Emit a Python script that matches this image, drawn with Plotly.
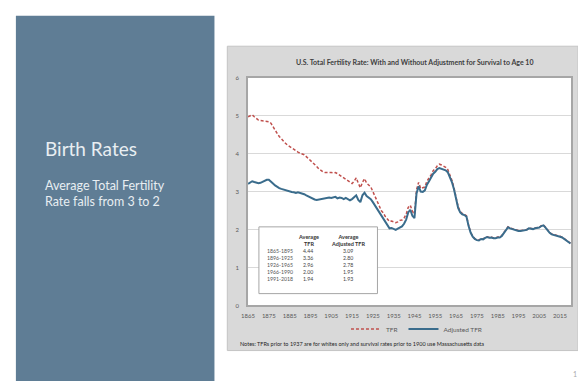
import plotly.graph_objects as go

W, H = 578, 384

# --- series -----------------------------------------------------------------
years = list(range(1865, 2021))

tfr = [
    4.97, 5.00, 5.02, 4.97, 4.92, 4.88, 4.87, 4.86, 4.86, 4.85,   # 1865-1874
    4.84, 4.80, 4.70, 4.60, 4.53, 4.45, 4.38, 4.32, 4.27, 4.22,   # 1875-1884
    4.18, 4.15, 4.11, 4.07, 4.04, 4.01, 3.99, 3.97, 3.92, 3.87,   # 1885-1894
    3.82, 3.78, 3.72, 3.66, 3.60, 3.55, 3.52, 3.50, 3.50, 3.51,   # 1895-1904
    3.50, 3.49, 3.50, 3.47, 3.43, 3.39, 3.35, 3.31, 3.28, 3.25,   # 1905-1914
    3.21, 3.27, 3.36, 3.22, 3.10, 3.24, 3.34, 3.22, 3.18, 3.12,   # 1915-1924
    3.00, 2.86, 2.76, 2.63, 2.50, 2.44, 2.34, 2.27, 2.21, 2.22,   # 1925-1934
    2.21, 2.18, 2.20, 2.24, 2.25, 2.30, 2.40, 2.58, 2.64, 2.48,   # 1935-1944
    2.40, 3.05, 3.24, 3.08, 3.10, 3.12, 3.27, 3.35, 3.44, 3.55,   # 1945-1954
    3.60, 3.68, 3.72, 3.70, 3.68, 3.64, 3.58, 3.45, 3.30, 3.10,   # 1955-1964
    2.84, 2.60, 2.47, 2.42, 2.40, 2.36, 2.12, 1.93, 1.82, 1.76,   # 1965-1974
    1.73, 1.72, 1.76, 1.75, 1.79, 1.81, 1.79, 1.80, 1.78, 1.78,   # 1975-1984
    1.80, 1.80, 1.84, 1.92, 2.02, 2.07, 2.04, 2.02, 2.00, 1.98,   # 1985-1994
    1.97, 1.97, 1.98, 1.99, 2.00, 2.04, 2.02, 2.02, 2.04, 2.05,   # 1995-2004
    2.06, 2.10, 2.12, 2.06, 1.98, 1.92, 1.88, 1.87, 1.86, 1.85,   # 2005-2014
    1.82, 1.80, 1.76, 1.72, 1.70, 1.64,                           # 2015-2020
]

adj_tfr = [
    3.20, 3.24, 3.27, 3.25, 3.23, 3.22, 3.23, 3.26, 3.29, 3.31,   # 1865-1874
    3.31, 3.27, 3.21, 3.16, 3.12, 3.09, 3.07, 3.05, 3.04, 3.03,   # 1875-1884
    3.00, 2.99, 2.98, 2.96, 2.98, 2.97, 2.95, 2.93, 2.90, 2.87,   # 1885-1894
    2.84, 2.82, 2.79, 2.78, 2.79, 2.80, 2.81, 2.83, 2.82, 2.84,   # 1895-1904
    2.83, 2.84, 2.86, 2.82, 2.84, 2.83, 2.80, 2.83, 2.79, 2.77,   # 1905-1914
    2.80, 2.86, 2.90, 2.78, 2.72, 2.90, 2.97, 2.88, 2.84, 2.80,   # 1915-1924
    2.72, 2.63, 2.57, 2.47, 2.36, 2.28, 2.18, 2.10, 2.03, 2.04,   # 1925-1934
    2.02, 1.99, 2.02, 2.06, 2.08, 2.15, 2.26, 2.45, 2.52, 2.36,   # 1935-1944
    2.30, 2.95, 3.14, 3.00, 2.99, 3.03, 3.18, 3.27, 3.36, 3.47,   # 1945-1954
    3.52, 3.59, 3.62, 3.60, 3.59, 3.56, 3.51, 3.39, 3.25, 3.06,   # 1955-1964
    2.80, 2.57, 2.45, 2.40, 2.38, 2.34, 2.10, 1.92, 1.81, 1.75,   # 1965-1974
    1.72, 1.71, 1.75, 1.74, 1.78, 1.80, 1.78, 1.79, 1.77, 1.77,   # 1975-1984
    1.79, 1.79, 1.83, 1.91, 2.01, 2.06, 2.03, 2.01, 1.99, 1.97,   # 1985-1994
    1.96, 1.96, 1.97, 1.98, 1.99, 2.03, 2.01, 2.01, 2.03, 2.04,   # 1995-2004
    2.05, 2.09, 2.11, 2.05, 1.97, 1.91, 1.87, 1.86, 1.85, 1.84,   # 2005-2014
    1.81, 1.79, 1.75, 1.71, 1.69, 1.63,                           # 2015-2020
]

x_ticks = list(range(1865, 2016, 10))
y_ticks = [0, 1, 2, 3, 4, 5, 6]

# --- inset table of period averages ----------------------------------------
periods = ["1865-1895", "1896-1925", "1926-1965", "1966-1990", "1991-2018"]
avg_tfr = ["4.44", "3.36", "2.96", "2.00", "1.94"]
avg_adj_tfr = ["3.09", "2.80", "2.78", "1.95", "1.93"]

# --- text -------------------------------------------------------------------
chart_title = "U.S. Total Fertility Rate: With and Without Adjustment for Survival to Age 10"
notes = ("Notes: TFRs prior to 1937 are for whites only and survival rates "
         "prior to 1900 use Massachusetts data")
slide_title = "Birth Rates"
slide_sub = "Average Total Fertility<br>Rate falls from 3 to 2"


def px(x):
    return x / W


def py(y):
    return 1 - y / H


FONT = "Lato"

fig = go.Figure()
fig.add_trace(go.Scatter(
    x=years, y=tfr, mode="lines", name="TFR",
    line=dict(color="#c0504d", width=1.5, dash="3px,2px"),
))
fig.add_trace(go.Scatter(
    x=years, y=adj_tfr, mode="lines", name="Adjusted TFR",
    line=dict(color="#3a6c8c", width=2),
))

shapes = [
    # slide side panel
    dict(type="rect", xref="paper", yref="paper", x0=px(9), x1=px(210),
         y0=py(384), y1=py(12), fillcolor="#5f7d95", line=dict(width=0),
         layer="below"),
    # chart frame
    dict(type="rect", xref="paper", yref="paper", x0=px(223), x1=px(578),
         y0=py(353), y1=py(43), fillcolor="#d9d9d9",
         line=dict(color="#c4c4c4", width=1), layer="below"),
    # plot area
    dict(type="rect", xref="paper", yref="paper", x0=px(244), x1=px(571),
         y0=py(307), y1=py(75), fillcolor="#ffffff",
         line=dict(width=0), layer="below"),
    # inset table box
    dict(type="rect", xref="paper", yref="paper", x0=px(255), x1=px(375),
         y0=py(295), y1=py(227), fillcolor="#ffffff",
         line=dict(color="#a6a6a6", width=1), layer="above"),
]

annotations = [
    dict(text=slide_title, x=px(36), y=py(147), xref="paper", yref="paper",
         xanchor="left", yanchor="middle", showarrow=False,
         font=dict(family=FONT, size=19, color="#e8eef2")),
    dict(text=slide_sub, x=px(36), y=py(193), xref="paper", yref="paper",
         xanchor="left", yanchor="middle", showarrow=False, align="left",
         font=dict(family=FONT, size=12.5, color="#e8eef2")),
    dict(text="<b>" + chart_title + "</b>", x=px(413), y=py(59),
         xref="paper", yref="paper", xanchor="center", yanchor="middle",
         showarrow=False, font=dict(family=FONT, size=7, color="#404040")),
    dict(text=notes, x=px(234), y=py(346), xref="paper", yref="paper",
         xanchor="left", yanchor="middle", showarrow=False,
         font=dict(family=FONT, size=5.5, color="#262626")),
    dict(text="1", x=px(575), y=py(377), xref="paper", yref="paper",
         xanchor="center", yanchor="middle", showarrow=False,
         font=dict(family=FONT, size=7, color="#aaaaaa")),
    # table headers
    dict(text="<b>Average<br>TFR</b>", x=px(305), y=py(240.5),
         xref="paper", yref="paper", xanchor="center", yanchor="middle",
         showarrow=False, font=dict(family=FONT, size=5.5, color="#333333")),
    dict(text="<b>Average<br>Adjusted TFR</b>", x=px(345), y=py(240.5),
         xref="paper", yref="paper", xanchor="center", yanchor="middle",
         showarrow=False, font=dict(family=FONT, size=5.5, color="#333333")),
]

for i, (p, a, b) in enumerate(zip(periods, avg_tfr, avg_adj_tfr)):
    yy = py(252 + i * 7)
    annotations.append(dict(text=p, x=px(261), y=yy, xref="paper", yref="paper",
                            xanchor="left", yanchor="middle", showarrow=False,
                            font=dict(family=FONT, size=5.2, color="#555555")))
    annotations.append(dict(text=a, x=px(305), y=yy, xref="paper", yref="paper",
                            xanchor="center", yanchor="middle", showarrow=False,
                            font=dict(family=FONT, size=5.2, color="#444444")))
    annotations.append(dict(text=b, x=px(345), y=yy, xref="paper", yref="paper",
                            xanchor="center", yanchor="middle", showarrow=False,
                            font=dict(family=FONT, size=5.2, color="#444444")))

fig.update_layout(
    width=W, height=H, autosize=False,
    margin=dict(l=0, r=0, t=0, b=0, pad=0),
    paper_bgcolor="#ffffff", plot_bgcolor="#ffffff",
    font=dict(family=FONT, color="#595959"),
    shapes=shapes, annotations=annotations,
    showlegend=True,
    legend=dict(orientation="h", x=px(415), y=py(331), xanchor="center",
                yanchor="middle", bgcolor="rgba(0,0,0,0)",
                font=dict(family=FONT, size=6.5, color="#595959"),
                itemwidth=30, tracegroupgap=0),
    xaxis=dict(domain=[px(244), px(571)], range=[1865, 2020.3],
               tickvals=x_ticks, ticktext=[str(t) for t in x_ticks],
               showgrid=False, zeroline=False, showline=True, mirror=True,
               linecolor="#a6a6a6", linewidth=1.5, ticks="",
               ticklabelstandoff=4,
               tickfont=dict(family=FONT, size=6, color="#595959")),
    yaxis=dict(domain=[py(307), py(75)], range=[0, 6], tickvals=y_ticks,
               showgrid=True, gridcolor="#d9d9d9", gridwidth=1,
               zeroline=False, showline=True, mirror=True,
               linecolor="#a6a6a6", linewidth=1.5, ticks="",
               ticklabelstandoff=6,
               tickfont=dict(family=FONT, size=6, color="#595959")),
)

fig.write_html("out.html")
